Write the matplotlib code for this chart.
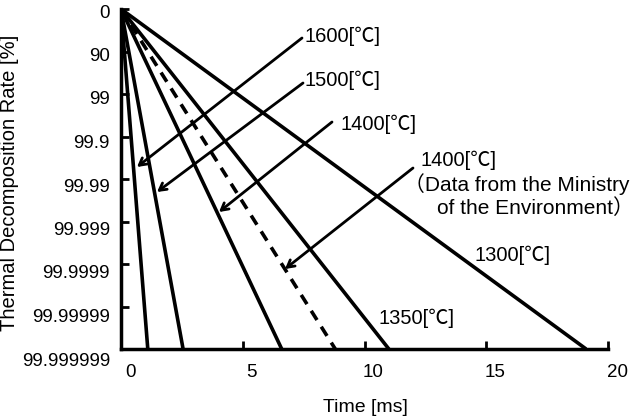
import numpy as np
import matplotlib
matplotlib.use("Agg")
from matplotlib import pyplot as plt
from matplotlib.transforms import ScaledTranslation

# time (ms) at which each curve reaches 99.999999 % decomposition
temps = ["1600", "1500", "1400", "1400 (MoE)", "1350", "1300"]
t_end = [1.1, 2.55, 6.6, 8.8, 11.0, 19.1]
styles = ["-", "-", "-", "--", "-", "-"]

# y axis: remaining fraction (100 - rate) in %, log scale
remain_ticks = [100, 10, 1, 0.1, 0.01, 1e-3, 1e-4, 1e-5, 1e-6]
rate_labels = ["0", "90", "99", "99.9", "99.99", "99.999", "99.9999",
               "99.99999", "99.999999"]
x_ticks = [0, 5, 10, 15, 20]

fam = ["Liberation Sans", "Noto Sans CJK JP", "DejaVu Sans"]

fig = plt.figure(figsize=(6.35, 4.2), dpi=100)
ax = fig.add_axes([121 / 635, 1 - 349 / 420, (608 - 121) / 635, (349 - 9) / 420])

for t, ls in zip(t_end, styles):
    ax.plot([0, t], [remain_ticks[0], remain_ticks[-1]], color="black",
            lw=2.6, ls=ls, dashes=(3, 2.2) if ls == "--" else (None, None),
            solid_capstyle="butt")

ax.set_yscale("log")
ax.set_ylim(remain_ticks[-1], remain_ticks[0])
ax.set_xlim(0, 20)
ax.minorticks_off()
ax.set_yticks(remain_ticks)
ax.set_yticklabels(rate_labels, fontfamily=fam, fontsize=13.5)
ax.set_xticks(x_ticks)
ax.set_xticklabels([str(v) for v in x_ticks], fontfamily=fam, fontsize=13.5)
ax.tick_params(axis="both", direction="in", length=6, width=2, color="black")
ax.tick_params(axis="y", pad=8)
ax.tick_params(axis="x", pad=11)
for s in ["top", "right"]:
    ax.spines[s].set_visible(False)
for s in ["left", "bottom"]:
    ax.spines[s].set_linewidth(2.5)

# labels in the original sit slightly off their ticks
for i, lab in enumerate(ax.get_yticklabels()):
    lab.set_transform(lab.get_transform()
                      + ScaledTranslation(0, -(2 + i) / 100, fig.dpi_scale_trans))
for lab in ax.get_xticklabels():
    lab.set_transform(lab.get_transform()
                      + ScaledTranslation(9 / 100, 0, fig.dpi_scale_trans))

ax.set_ylabel("Thermal Decomposition Rate [%]", fontfamily=fam, fontsize=14.5)
ax.yaxis.set_label_coords(-0.21, 0.488)
ax.set_xlabel("Time [ms]", fontfamily=fam, fontsize=14)
ax.xaxis.set_label_coords((365 - 121) / 487, -(407 - 349) / 340)
ax.xaxis.label.set_va("center")


def px(x, y):
    # figure pixel position from top-left image coordinates
    return (x, 420 - y)


arrows = [
    ((302, 38), (137, 167)),
    ((303, 83), (157, 192)),
    ((332, 122), (219, 212)),
    ((413, 168), (285, 269)),
]
for start, tip in arrows:
    ax.annotate("", xy=px(*tip), xytext=px(*start), xycoords="figure pixels",
                textcoords="figure pixels",
                arrowprops=dict(arrowstyle="->,head_length=0.5,head_width=0.28",
                                lw=2, color="black", shrinkA=0, shrinkB=0))

labels = [
    ("1600[℃]", (305, 36), 14.5),
    ("1500[℃]", (305, 80), 14.5),
    ("1400[℃]", (341, 124), 14.5),
    ("1400[℃]", (420, 160), 14.5),
    ("（Data from the Ministry", (404, 184), 15),
    ("of the Environment）", (437, 208), 15),
    ("1300[℃]", (475, 255), 14.5),
    ("1350[℃]", (378, 318), 14.5),
]
for txt, pos, fs in labels:
    fig.text(pos[0] / 635, 1 - pos[1] / 420, txt, fontfamily=fam, fontsize=fs,
             ha="left", va="center")

fig.savefig("out.png", dpi=100)
